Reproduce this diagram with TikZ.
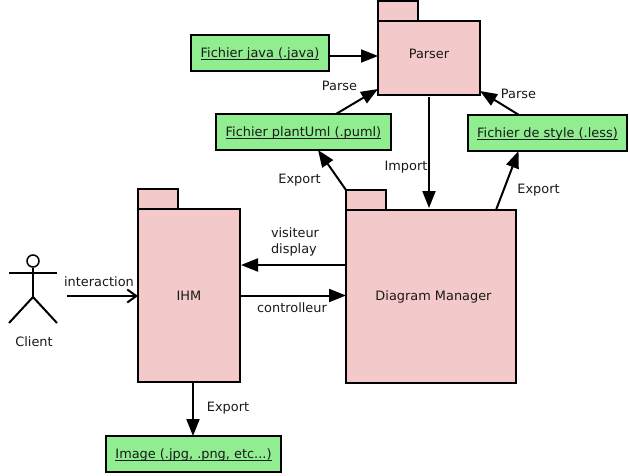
\documentclass[tikz,border=0pt]{standalone}
\usepackage{fontspec}
\setmainfont{DejaVu Sans}
\usetikzlibrary{arrows.meta}
\definecolor{mypink}{RGB}{244,201,201}
\definecolor{mygreen}{RGB}{144,238,144}
\definecolor{mytext}{RGB}{25,25,25}
\newcommand{\fileul}[1]{\raisebox{-4pt}[0pt][0pt]{\underline{\smash{#1}\vphantom{\raisebox{-0.6pt}{x}}}}}
\tikzset{
    package/.style={draw=black, fill=mypink, line width=2pt, anchor=north west, inner sep=0pt, outer sep=0pt, text=mytext},
    tab/.style={draw=black, fill=mypink, line width=2pt, anchor=south west, inner sep=0pt, outer sep=0pt, minimum width=40pt, minimum height=20pt},
    artefact/.style={draw=black, fill=mygreen, line width=2pt, anchor=north west, inner sep=0pt, outer sep=0pt, text=mytext},
    lbl/.style={text=mytext, inner sep=0pt},
    flow/.style={-{Triangle[length=17pt,width=13pt]}, line width=2pt},
    open flow/.style={-{Straight Barb[length=9pt,width=13pt]}, line width=2pt},
    stick/.style={line width=2pt}
}
\begin{document}
\begin{tikzpicture}[x=1pt, y=-1pt, font=\fontsize{12.9}{16}\selectfont]
    \useasboundingbox (0,0) rectangle (630,475);

    % Packages
    \node[package, minimum width=102pt, minimum height=74pt] (parser) at (378,21) {\raisebox{-0.7pt}[0pt][0pt]{Parser}};
    \node[tab] (parser_tab) at (parser.north west) {};
    \node[package, minimum width=170pt, minimum height=173pt] (manager) at (346,210) {\hspace*{5pt}Diagram Manager};
    \node[tab] (manager_tab) at (manager.north west) {};
    \node[package, minimum width=102pt, minimum height=173pt] (ihm) at (138,209) {IHM};
    \node[tab] (ihm_tab) at (ihm.north west) {};

    % Files
    \node[artefact, minimum width=138pt, minimum height=36pt] (java) at (191,35) {\fileul{Fichier java (.java)}};
    \node[artefact, minimum width=175pt, minimum height=36pt] (puml) at (216,114) {\fileul{Fichier plantUml (.puml)}};
    \node[artefact, minimum width=159pt, minimum height=36pt] (less) at (468,115) {\fileul{Fichier de style (.less)}};
    \node[artefact, minimum width=175pt, minimum height=36pt] (image) at (106,436) {\fileul{Image (.jpg, .png, etc...)}};

    % Actor
    \node[draw, circle, line width=1.5pt, minimum size=12pt, inner sep=0pt] (client_head) at (33,261) {};
    \coordinate (client_hip) at (33,297);
    \draw[stick] (client_head.south) -- (client_hip);
    \draw[stick] (9,273) -- (57,273);
    \draw[stick] (9,323) -- (client_hip) -- (57,323);
    \node[lbl] (client) at (34,342) {Client};
    \coordinate (client_out) at (67,296);

    % Connectors
    \draw[flow] (java.east) ++(0,3) coordinate (java_out) -- (java_out -| parser.west);
    \draw[flow] ([xshift=32.5pt]puml.north) -- ([yshift=6pt]parser.south west);
    \draw[flow] ([xshift=-28.5pt]less.north) -- ([yshift=4pt]parser.south east);
    \draw[flow] ([yshift=-2pt]parser.south) -- ([xshift=-2pt,yshift=2pt]manager.north);
    \draw[flow] (manager_tab.north west) -- ([xshift=14.5pt]puml.south);
    \draw[flow] ([xshift=65pt]manager.north) -- ([xshift=-29pt]less.south);
    \draw[flow] ([yshift=31.5pt]manager.west) -- ([yshift=31.5pt,xshift=1pt]manager.west -| ihm.east);
    \draw[flow] (ihm.east) -- (ihm.east -| manager.west);
    \draw[open flow] (client_out) -- (client_out -| ihm.west);
    \draw[flow] ([xshift=4pt]ihm.south) -- ([xshift=4pt]ihm.south |- image.north);

    % Connector labels
    \node[lbl] (parse_puml) at (339.5,85.5) {Parse};
    \node[lbl] (parse_less) at (518.5,93.5) {Parse};
    \node[lbl] (import) at (406,167) {Import};
    \node[lbl] (export_puml) at (299.5,180) {Export};
    \node[lbl] (export_less) at (538.5,190) {Export};
    \node[lbl, align=left] (visiteur) at (295,242) {visiteur\\display};
    \node[lbl] (controlleur) at (292,307.5) {controlleur};
    \node[lbl] (interaction) at (99,281.5) {interaction};
    \node[lbl] (export_image) at (228,408) {Export};
\end{tikzpicture}
\end{document}
